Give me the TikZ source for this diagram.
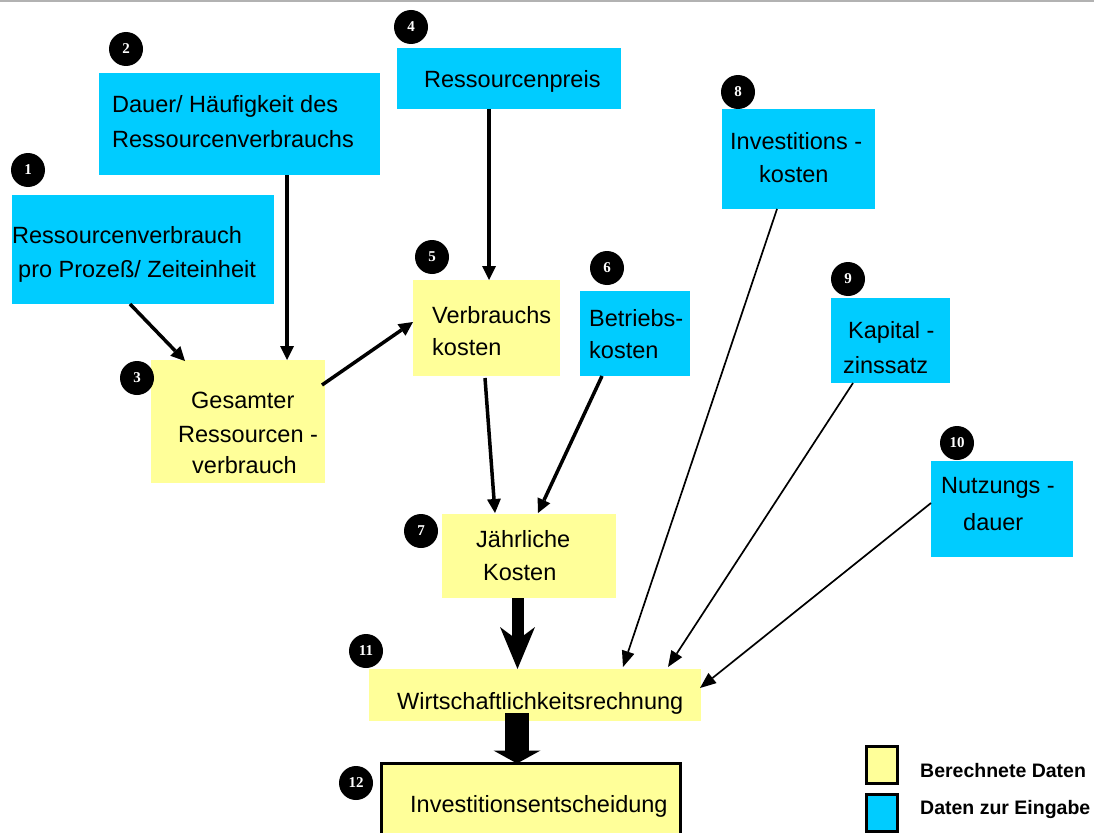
\documentclass[tikz,border=0pt]{standalone}
\usepackage{fontspec}
\setmainfont{Liberation Sans}
\newfontfamily\badgefont{Liberation Serif}
\usetikzlibrary{arrows.meta,calc}
\definecolor{inputblue}{HTML}{00CCFF}
\definecolor{calcyellow}{HTML}{FFFF99}
\begin{document}
\begin{tikzpicture}[x=1pt,y=-1pt,
  box/.style={anchor=north west, inner sep=0pt, outer sep=0pt, draw=none},
  inbox/.style={box, fill=inputblue},
  calcbox/.style={box, fill=calcyellow},
  lbl/.style={anchor=base west, inner sep=0pt, font=\fontsize{23.5}{28}\selectfont},
  leg/.style={anchor=base west, inner sep=0pt, font=\bfseries\fontsize{19.5}{22}\selectfont},
  badge/.style={circle, fill=black, text=white, minimum size=34pt, inner sep=0pt, font=\fontsize{15}{15}\selectfont\badgefont\bfseries},
  flow/.style={line width=3.5pt, -{Triangle[length=14pt,width=14pt,line width=0pt]}},
  thinflow/.style={line width=1.7pt, -{Triangle[length=16pt,width=13pt,line width=0pt]}},
  legbox/.style={draw=black, line width=3pt, minimum width=31pt, minimum height=37pt, inner sep=0pt, anchor=north west}
]
\useasboundingbox (0,0) rectangle (1094,832);
\fill[white] (0,0) rectangle (1094,832);
\draw[line width=2pt, black!30] (0,1) -- (1094,1);

% boxes
\node[inbox, minimum width=262pt, minimum height=109pt] (b1) at (12,195) {};
\node[inbox, minimum width=281pt, minimum height=102pt] (b2) at (99,73) {};
\node[calcbox, minimum width=174pt, minimum height=123pt] (b3) at (151,360) {};
\node[inbox, minimum width=224pt, minimum height=61pt] (b4) at (397,48) {};
\node[calcbox, minimum width=147pt, minimum height=96pt] (b5) at (413,280) {};
\node[inbox, minimum width=110pt, minimum height=85pt] (b6) at (580,291) {};
\node[calcbox, minimum width=174pt, minimum height=84pt] (b7) at (442,514) {};
\node[inbox, minimum width=153pt, minimum height=100pt] (b8) at (722,109) {};
\node[inbox, minimum width=119pt, minimum height=85pt] (b9) at (831,298) {};
\node[inbox, minimum width=142pt, minimum height=96pt] (b10) at (931,461) {};
\node[calcbox, minimum width=332pt, minimum height=52pt] (b11) at (369,669) {};
\node[calcbox, draw=black, line width=3pt, minimum width=299pt, minimum height=90pt] (b12) at (381.5,763.5) {};

% texts
\node[lbl] (t1a) at (12,243) {Ressourcenverbrauch};
\node[lbl] (t1b) at (18,277) {pro Prozeß/ Zeiteinheit};
\node[lbl] (t2a) at (112,113) {Dauer/ Häufigkeit des};
\node[lbl] (t2b) at (112,147) {Ressourcenverbrauchs};
\node[lbl] (t3a) at (191,408) {Gesamter};
\node[lbl] (t3b) at (178,442) {Ressourcen -};
\node[lbl] (t3c) at (192,473) {verbrauch};
\node[lbl] (t4a) at (424,88) {Ressourcenpreis};
\node[lbl] (t5a) at (432,323) {Verbrauchs};
\node[lbl] (t5b) at (432,355) {kosten};
\node[lbl] (t6a) at (589,326) {Betriebs-};
\node[lbl] (t6b) at (589,358) {kosten};
\node[lbl] (t7a) at (476,547) {Jährliche};
\node[lbl] (t7b) at (483,580) {Kosten};
\node[lbl] (t8a) at (730,149) {Investitions -};
\node[lbl] (t8b) at (759,182) {kosten};
\node[lbl] (t9a) at (848,338) {Kapital -};
\node[lbl] (t9b) at (843,373) {zinssatz};
\node[lbl] (t10a) at (941,493) {Nutzungs -};
\node[lbl] (t10b) at (963,530) {dauer};
\node[lbl] (t11a) at (397,709) {Wirtschaftlichkeitsrechnung};
\node[lbl] (t12a) at (410,812) {Investitionsentscheidung};

% badges
\node[badge] (n1) at (28,170) {1};
\node[badge] (n2) at (126,49) {2};
\node[badge] (n3) at (137,378) {3};
\node[badge] (n4) at (411,27) {4};
\node[badge] (n5) at (432,257) {5};
\node[badge] (n6) at (607,268) {6};
\node[badge] (n7) at (421,531) {7};
\node[badge] (n8) at (738,92) {8};
\node[badge] (n9) at (848,279) {9};
\node[badge] (n10) at (957,443) {10};
\node[badge] (n11) at (366,651) {11};
\node[badge] (n12) at (356,783) {12};

% connectors
\draw[flow] ($(b1.south west)+(118,0)$) -- ($(b3.north west)+(34,1)$);
\draw[flow] ($(b2.south west)+(188,0)$) coordinate (s2) -- (s2 |- b3.north);
\draw[flow] ($(b3.north east)+(-3,25)$) -- ($(b5.north west)+(0,42)$);
\draw[flow] ($(b4.south west)+(92,0)$) coordinate (s4) -- (s4 |- b5.north);
\draw[flow] ($(b5.south west)+(72,2)$) -- ($(b7.north west)+(53,-1)$);
\draw[flow] ($(b6.south west)+(22,0)$) -- ($(b7.north west)+(96,-1)$);
\draw[thinflow] ($(b8.south west)+(55,0)$) -- ($(b11.north west)+(254,-2)$);
\draw[thinflow] ($(b9.south west)+(22,0)$) -- ($(b11.north west)+(299,-2)$);
\draw[thinflow] ($(b10.north west)+(0,42)$) -- ($(b11.north east)+(-1,19)$);
\draw[line width=12pt, -{Stealth[length=42pt,width=35pt,inset=13pt,line width=0pt]}]
  ($(b7.south west)+(75.5,0)$) coordinate (s7) -- (s7 |- b11.north);
\draw[line width=24pt, -{Triangle[length=13pt,width=47pt,line width=0pt]}]
  ($(b11.south west)+(148,-8)$) coordinate (s11) -- (s11 |- b12.north);

% legend
\node[legbox, fill=calcyellow] (ly) at (864.5,744.5) {};
\node[legbox, fill=inputblue] (lb) at (864.5,792.5) {};
\node[leg] (lyt) at (920,777) {Berechnete Daten};
\node[leg] (lbt) at (920,814) {Daten zur Eingabe};
\end{tikzpicture}
\end{document}
